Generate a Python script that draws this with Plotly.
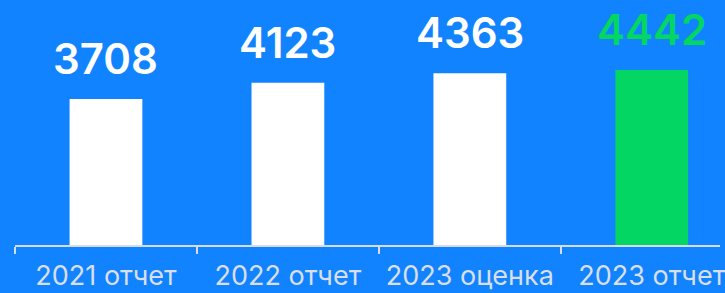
import plotly.graph_objects as go

categories = ["2021 отчет", "2022 отчет", "2023 оценка", "2023 отчет"]
values = [3708, 4123, 4363, 4442]
bar_colors = ["#FFFFFF", "#FFFFFF", "#FFFFFF", "#03D662"]
label_colors = ["#FFFFFF", "#FFFFFF", "#FFFFFF", "#03D662"]

BG = "#1283FE"

fig = go.Figure()
fig.add_trace(go.Bar(
    x=categories,
    y=values,
    width=0.4,
    marker=dict(color=bar_colors, line=dict(width=0)),
    hoverinfo="skip",
))

for c_name, v, c in zip(categories, values, label_colors):
    fig.add_annotation(
        x=c_name, y=v, text=str(v), showarrow=False,
        yanchor="bottom", yshift=13,
        font=dict(family="Inter", size=42, color=c, weight=600),
    )

fig.update_layout(
    width=725, height=293,
    margin=dict(l=15, r=0, t=0, b=48),
    paper_bgcolor=BG, plot_bgcolor=BG,
    showlegend=False,
    xaxis=dict(
        type="category",
        range=[-0.5, 3.375],
        tickson="boundaries",
        showgrid=False, zeroline=False,
        showline=True, linecolor="#D5DCE6", linewidth=2,
        ticks="outside", ticklen=7, tickcolor="#D5DCE6", tickwidth=2,
        ticklabelstandoff=6,
        tickfont=dict(family="Inter", size=27, color="#D9DFE8"),
    ),
    yaxis=dict(range=[0, 6223], visible=False, showgrid=False, zeroline=False),
)

fig.write_html("out.html", config={"displayModeBar": False},
               post_script="document.body.style.margin='0';document.body.style.background='%s';" % BG)
